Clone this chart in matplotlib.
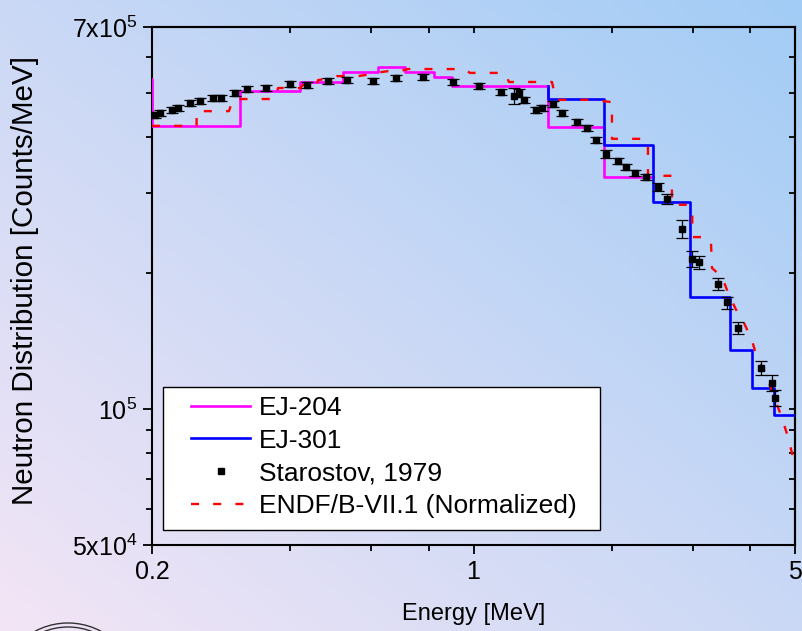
import numpy as np
import matplotlib
matplotlib.use('Agg')
import matplotlib.pyplot as plt
from matplotlib import rc
from matplotlib.ticker import FixedLocator, FixedFormatter, NullFormatter
from matplotlib.lines import Line2D
from matplotlib.patches import Circle, Rectangle

rc('font', family=['Liberation Sans', 'DejaVu Sans'])
rc('mathtext', fontset='custom', rm='Liberation Sans', it='Liberation Sans',
   default='regular')

# EJ-204 unfolded spectrum (bin edges in MeV, counts/MeV), first bin is left of 0.2
ej204_edges = [0.19, 0.2, 0.31, 0.42, 0.52, 0.62, 0.71, 0.82, 0.90, 1.45, 1.92, 2.46]
ej204_vals = [5.37e5, 4.23e5, 5.05e5, 5.29e5, 5.57e5, 5.71e5, 5.57e5, 5.42e5,
              5.17e5, 4.21e5, 3.26e5]

# EJ-301 unfolded spectrum
ej301_edges = [1.45, 1.45, 1.92, 2.46, 2.95, 3.61, 4.03, 4.50, 5.3]
ej301_vals = [5.17e5, 4.85e5, 3.83e5, 2.87e5, 1.77e5, 1.35e5, 1.11e5, 9.70e4]

# Starostov, 1979
star_e = [0.203, 0.208, 0.221, 0.228, 0.242, 0.254, 0.271, 0.283, 0.303, 0.322,
          0.354, 0.399, 0.435, 0.483, 0.531, 0.605, 0.678, 0.777, 0.902, 1.028,
          1.148, 1.225, 1.256, 1.287, 1.367, 1.409, 1.489, 1.558, 1.679, 1.765,
          1.846, 1.941, 2.061, 2.145, 2.244, 2.371, 2.518, 2.634, 2.840, 2.986,
          3.092, 3.401, 3.557, 3.758, 4.216, 4.455, 4.522]
star_y = [4.47e5, 4.52e5, 4.58e5, 4.63e5, 4.75e5, 4.80e5, 4.87e5, 4.87e5, 5.00e5, 5.10e5,
          5.13e5, 5.23e5, 5.21e5, 5.32e5, 5.34e5, 5.32e5, 5.40e5, 5.42e5, 5.29e5, 5.18e5,
          5.03e5, 4.92e5, 5.00e5, 4.83e5, 4.58e5, 4.63e5, 4.73e5, 4.52e5, 4.31e5, 4.18e5,
          3.94e5, 3.66e5, 3.54e5, 3.43e5, 3.33e5, 3.26e5, 3.10e5, 2.91e5, 2.50e5, 2.15e5,
          2.11e5, 1.89e5, 1.72e5, 1.51e5, 1.23e5, 1.14e5, 1.06e5]
star_err = [6.8e3, 6.9e3, 7.0e3, 7.1e3, 7.3e3, 7.3e3, 7.5e3, 7.5e3, 7.7e3, 7.8e3,
            7.8e3, 8.0e3, 8.0e3, 8.1e3, 8.2e3, 8.1e3, 8.3e3, 8.3e3, 8.1e3, 7.9e3,
            7.7e3, 2.0e4, 1.0e4, 7.4e3, 7.0e3, 7.1e3, 7.2e3, 6.9e3, 6.6e3, 6.4e3,
            6.0e3, 7.5e3, 5.4e3, 5.2e3, 5.1e3, 5.0e3, 6.3e3, 7.4e3, 1.15e4, 8.8e3,
            6.5e3, 5.8e3, 5.3e3, 4.6e3, 4.4e3, 4.7e3, 4.3e3]

# ENDF/B-VII.1 (normalized)
endf_e = [0.2, 0.250, 0.250, 0.294, 0.300, 0.370, 0.376, 0.420, 0.426, 0.457,
          0.459, 0.488, 0.505, 0.561, 0.602, 0.611, 0.652, 0.692, 0.720, 0.958,
          0.982, 1.171, 1.194, 1.481, 1.511, 1.810, 1.980, 2.0, 2.0, 2.324,
          2.395, 2.395, 2.70, 2.70, 2.95, 2.99, 2.99, 3.185, 3.282, 3.30,
          3.469, 3.575, 3.720, 3.873, 4.03, 4.132, 4.302, 4.477, 4.684, 4.826, 5.0]
endf_y = [4.23e5, 4.23e5, 4.56e5, 4.56e5, 4.85e5, 4.85e5, 5.13e5, 5.13e5, 5.21e5, 5.21e5,
          5.34e5, 5.40e5, 5.45e5, 5.45e5, 5.51e5, 5.54e5, 5.59e5, 5.59e5, 5.65e5, 5.65e5,
          5.54e5, 5.54e5, 5.29e5, 5.29e5, 4.83e5, 4.83e5, 4.78e5, 4.78e5, 3.96e5, 3.96e5,
          3.92e5, 3.28e5, 3.28e5, 2.83e5, 2.83e5, 2.75e5, 2.40e5, 2.40e5, 2.36e5, 2.05e5,
          1.96e5, 1.81e5, 1.66e5, 1.55e5, 1.42e5, 1.30e5, 1.21e5, 1.08e5, 9.55e4, 8.67e4, 7.52e4]

W, H = 802, 631
fig = plt.figure(figsize=(W / 100., H / 100.), dpi=100)

# gradient background + partial seal
bg = fig.add_axes([0, 0, 1, 1], zorder=-5)
gx, gy = np.meshgrid(np.linspace(0, 1, 200), np.linspace(0, 1, 160))
t = (gx + gy) / 2.
pink = np.array([243, 229, 246]) / 255.
blue = np.array([162, 204, 245]) / 255.
img = pink[None, None, :] * (1 - t[..., None]) + blue[None, None, :] * t[..., None]
bg.imshow(img, origin='lower', extent=[0, W, 0, H], aspect='auto')
for r in (70, 66):
    bg.add_patch(Circle((68, -62), r, fill=False, ec='#333333', lw=1.0))
bg.set_xlim(0, W)
bg.set_ylim(0, H)
bg.axis('off')

ax = fig.add_axes([152. / W, 1 - 545. / H, 643. / W, 518. / H])
ax.patch.set_alpha(0)

dash = (0, (3.4, 6.0))
ax.plot(ej204_edges, ej204_vals + [ej204_vals[-1]], drawstyle='steps-post',
        color='#ff00ff', lw=1.9, zorder=3)
ax.plot(ej301_edges, ej301_vals + [ej301_vals[-1]], drawstyle='steps-post',
        color='#0000ff', lw=1.9, zorder=4)
ax.plot(endf_e, endf_y, color='#ff0000', lw=1.7, ls=dash, zorder=5)
ax.errorbar(star_e, star_y, yerr=star_err, fmt='s', color='black', ms=5,
            elinewidth=0.9, capsize=4, capthick=0.9, zorder=6)

ax.set_xscale('log')
ax.set_yscale('log')
ax.set_xlim(0.2, 5)
ax.set_ylim(5e4, 7e5)

ax.xaxis.set_major_locator(FixedLocator([0.2, 1, 5]))
ax.xaxis.set_major_formatter(FixedFormatter(['0.2', '1', '5']))
ax.xaxis.set_minor_locator(FixedLocator([0.4, 0.6, 0.8, 2, 3, 4]))
ax.xaxis.set_minor_formatter(NullFormatter())
ax.yaxis.set_major_locator(FixedLocator([5e4, 1e5, 7e5]))
ax.yaxis.set_major_formatter(FixedFormatter(['5x10$^{4}$', '10$^{5}$', '7x10$^{5}$']))
ax.yaxis.set_minor_locator(FixedLocator([6e4, 7e4, 8e4, 9e4, 2e5, 3e5, 4e5, 5e5, 6e5]))
ax.yaxis.set_minor_formatter(NullFormatter())

for s in ax.spines.values():
    s.set_linewidth(1.5)
ax.tick_params(which='major', direction='out', length=6.5, width=1.3,
               labelsize=18, pad=4)
ax.tick_params(which='minor', direction='out', length=4.3, width=1.3)

top = ax.secondary_xaxis('top')
top.xaxis.set_major_locator(FixedLocator([0.2, 1, 5]))
top.xaxis.set_minor_locator(FixedLocator([0.4, 0.6, 0.8, 2, 3, 4]))
top.tick_params(which='both', direction='in', length=4.5, width=1.3,
                labeltop=False)
top.xaxis.set_minor_formatter(NullFormatter())
right = ax.secondary_yaxis('right')
right.yaxis.set_major_locator(FixedLocator([5e4, 1e5, 7e5]))
right.yaxis.set_minor_locator(FixedLocator([6e4, 7e4, 8e4, 9e4, 2e5, 3e5, 4e5, 5e5, 6e5]))
right.tick_params(which='both', direction='in', length=4.5, width=1.3,
                  labelright=False)
right.yaxis.set_minor_formatter(NullFormatter())
for sec in (top, right):
    for s in sec.spines.values():
        s.set_linewidth(1.5)

ax.set_xlabel('Energy [MeV]', fontsize=17, labelpad=14)
ax.set_ylabel('Neutron Distribution [Counts/MeV]', fontsize=21.3)
ax.yaxis.set_label_coords(-0.176, 0.5106)

# legend box drawn by hand (Origin style padding)
ax.add_patch(Rectangle((0.0171, 0.029), 0.6796, 0.276, transform=ax.transAxes,
                       facecolor='white', edgecolor='black', lw=1.0, zorder=9))
handles = [Line2D([], [], color='#ff00ff', lw=1.9),
           Line2D([], [], color='#0000ff', lw=1.9),
           Line2D([], [], color='black', marker='s', ms=5, ls='none'),
           Line2D([], [], color='#ff0000', lw=1.7, ls=dash)]
labels = ['EJ-204', 'EJ-301', 'Starostov, 1979', 'ENDF/B-VII.1 (Normalized)']
leg = ax.legend(handles, labels, loc='upper left', bbox_to_anchor=(0.0607, 0.2876),
                fontsize=19, frameon=False, borderaxespad=0, borderpad=0,
                handlelength=2.24, handletextpad=0.34, labelspacing=0.33)
leg.set_zorder(10)

fig.savefig('out.png', dpi=100)
